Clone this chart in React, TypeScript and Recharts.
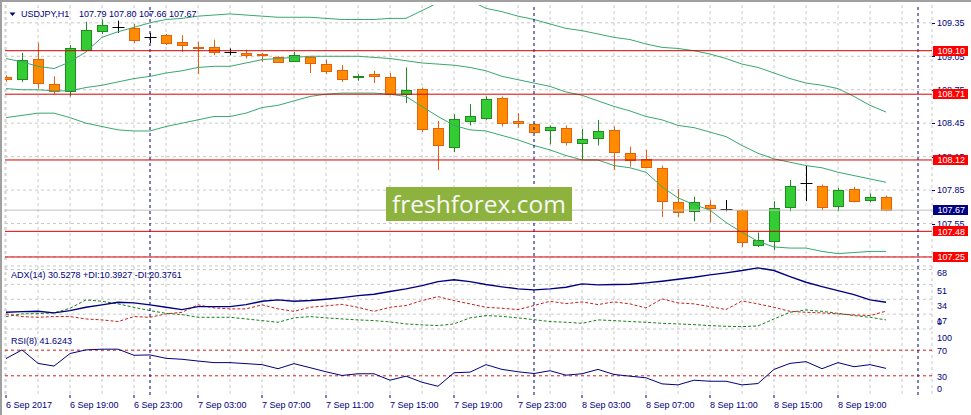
import React from 'react';
import {
  ComposedChart,
  Bar,
  Line,
  XAxis,
  YAxis,
  CartesianGrid,
  ReferenceLine,
  ReferenceArea,
} from 'recharts';

// ---------- data ----------
const symbolName = 'USDJPY,H1';

const openP = [108.86,108.85,109.03,108.80,108.74,109.11,109.28,109.31,109.30,109.22,109.24,109.18,109.13,109.13,109.09,109.08,109.07,109.04,109.01,109.04,108.98,108.93,108.86,108.89,108.86,108.71,108.76,108.41,108.24,108.47,108.50,108.68,108.47,108.44,108.39,108.41,108.27,108.32,108.39,108.18,108.13,108.05,107.74,107.66,107.72,107.68,107.67,107.36,107.39,107.70,107.91,107.89,107.71,107.86,107.76,107.79];
const highP = [108.88,109.08,109.17,108.87,109.15,109.36,109.38,109.37,109.34,109.26,109.25,109.24,109.18,109.20,109.12,109.11,109.08,109.05,109.09,109.05,109.02,108.97,108.89,108.92,108.90,108.95,108.77,108.47,108.53,108.62,108.69,108.69,108.54,108.45,108.43,108.43,108.40,108.48,108.42,108.24,108.21,108.07,107.86,107.79,107.76,107.76,107.68,107.47,107.75,107.94,108.07,107.90,107.87,107.88,107.82,107.80];
const lowP = [108.82,108.82,108.76,108.71,108.69,109.10,109.25,109.26,109.17,109.17,109.15,109.09,108.89,109.06,109.06,109.03,109.00,108.99,109.00,108.90,108.89,108.82,108.83,108.81,108.70,108.63,108.37,108.03,108.19,108.43,108.48,108.42,108.41,108.36,108.26,108.25,108.12,108.25,108.03,108.06,108.05,107.61,107.61,107.57,107.56,107.66,107.34,107.34,107.31,107.66,107.75,107.67,107.66,107.74,107.74,107.66];
const closeP = [108.85,109.02,108.81,108.74,109.12,109.29,109.33,109.31,109.20,109.22,109.17,109.15,109.12,109.09,109.09,109.06,109.06,109.00,109.06,108.99,108.92,108.85,108.87,108.87,108.71,108.75,108.40,108.25,108.49,108.51,108.67,108.45,108.45,108.37,108.42,108.28,108.31,108.38,108.19,108.12,108.06,107.75,107.65,107.74,107.69,107.68,107.38,107.40,107.69,107.89,107.91,107.70,107.85,107.75,107.79,107.67];

const bbUpper = [109.03,109.00,108.96,108.94,109.00,109.09,109.22,109.27,109.31,109.35,109.38,109.39,109.41,109.42,109.43,109.42,109.41,109.40,109.40,109.40,109.39,109.38,109.38,109.38,109.39,109.39,109.46,109.53,109.57,109.55,109.48,109.45,109.41,109.38,109.34,109.30,109.28,109.25,109.22,109.20,109.16,109.13,109.12,109.10,109.07,109.03,108.98,108.95,108.90,108.85,108.81,108.79,108.76,108.69,108.61,108.55];
const bbMiddle = [108.76,108.75,108.75,108.74,108.74,108.77,108.79,108.82,108.85,108.87,108.90,108.92,108.95,108.96,108.96,108.99,109.02,109.03,109.04,109.05,109.05,109.05,109.05,109.04,109.03,109.01,108.99,108.98,108.97,108.95,108.92,108.87,108.84,108.81,108.78,108.73,108.70,108.65,108.60,108.56,108.51,108.48,108.43,108.41,108.37,108.33,108.25,108.18,108.13,108.10,108.07,108.05,108.01,107.98,107.95,107.92];
const bbLower = [108.50,108.52,108.54,108.54,108.50,108.45,108.42,108.39,108.38,108.38,108.42,108.45,108.48,108.51,108.51,108.54,108.59,108.61,108.65,108.69,108.71,108.72,108.72,108.72,108.71,108.69,108.60,108.51,108.43,108.39,108.38,108.34,108.30,108.25,108.21,108.16,108.12,108.12,108.07,108.05,108.01,107.88,107.78,107.72,107.67,107.56,107.47,107.39,107.34,107.33,107.33,107.30,107.28,107.29,107.30,107.30];

const adxMain = [19.1,19.9,20.2,18.4,21.0,24.8,27.6,30.5,29.8,27.6,24.8,22.2,25.6,25.6,25.6,27.9,31.7,33.3,31.7,32.5,34.0,35.9,38.2,39.7,42.8,45.9,49.6,54.2,56.2,54.2,50.8,48.2,45.9,44.7,45.9,47.7,51.6,50.4,50.8,51.1,52.7,54.6,56.8,59.1,61.9,64.2,66.8,69.9,66.8,59.9,53.4,48.5,43.9,39.3,33.3,30.53];
const plusDI = [14.2,17.3,17.6,18.4,23.7,33.3,31.7,28.7,24.8,21.0,17.9,16.5,13.4,13.4,13.4,11.5,9.6,7.7,12.7,14.2,12.7,11.5,10.4,9.6,8.1,5.8,4.7,3.9,5.8,12.7,15.3,14.5,12.7,10.7,8.5,7.7,6.5,10.4,9.6,8.5,7.7,6.5,5.8,5.0,3.9,3.1,2.7,3.5,11.5,19.1,21.8,20.2,17.9,15.3,13.4,10.39];
const minusDI = [17.3,14.2,13.4,14.2,14.2,11.5,10.4,8.5,14.2,13.4,17.3,19.1,27.6,24.1,23.0,23.0,27.6,23.0,20.2,24.8,26.4,28.2,24.8,20.2,24.8,26.8,32.5,37.0,32.5,28.7,24.8,23.7,22.2,26.8,31.7,29.0,31.0,27.9,31.0,28.7,24.1,34.4,29.8,28.7,25.6,22.2,32.1,28.7,24.8,20.2,19.1,18.4,17.3,16.1,15.3,20.38];
const rsiValues = [56.9,70.5,49.4,45.2,64.8,70.5,71.6,71.6,62.1,62.6,57.3,55.8,53.1,50.6,50.6,49.0,47.4,41.1,49.0,42.7,36.3,30.5,33.2,33.2,23.1,29.4,19.9,13.6,34.8,35.7,47.4,40.0,36.3,33.6,37.9,31.0,33.2,40.0,32.1,29.4,26.9,17.4,15.8,23.1,21.5,21.5,15.8,17.9,40.0,49.4,52.1,41.1,50.6,44.2,47.4,41.62];

const adxHeader = 'ADX(14) 30.5278 +DI:10.3927 -DI:20.3761';
const rsiHeader = 'RSI(8) 41.6243';

const timeTickIndex = [0, 4, 8, 12, 16, 20, 24, 28, 32, 36, 40, 44, 48, 52];
const timeTickLabels = ['6 Sep 2017','6 Sep 19:00','6 Sep 23:00','7 Sep 03:00','7 Sep 07:00','7 Sep 11:00','7 Sep 15:00','7 Sep 19:00','7 Sep 23:00','8 Sep 03:00','8 Sep 07:00','8 Sep 11:00','8 Sep 15:00','8 Sep 19:00'];
const priceTicks = [107.25, 107.55, 107.85, 108.15, 108.45, 108.75, 109.05, 109.35];
const levelLines = [109.10, 108.71, 108.12, 107.48, 107.25];
const daySeparators = [9, 33, 57];
const adxTicks = [17, 34, 51, 68];
const adxMin = 0;
const rsiTicks = [30, 70];
const rsiMin = 0;
const rsiMax = 100;
const rsiLevels = [70, 30];

const data = openP.map((o, i) => ({
  i,
  open: o,
  high: highP[i],
  low: lowP[i],
  close: closeP[i],
  upper: bbUpper[i],
  middle: bbMiddle[i],
  lower: bbLower[i],
  adx: adxMain[i],
  pdi: plusDI[i],
  mdi: minusDI[i],
  rsi: rsiValues[i],
}));

const lastIdx = closeP.length - 1;
const lastClose = closeP[lastIdx];
const ohlcText = `${openP[lastIdx].toFixed(2)} ${highP[lastIdx].toFixed(2)} ${lowP[lastIdx].toFixed(2)} ${closeP[lastIdx].toFixed(2)}`;

// axis ticks: plain labels first, price tags afterwards so the tags sit on top
const mainAxisTicks = [...priceTicks, ...levelLines, lastClose];

// ---------- layout / style ----------
const W = 971;
const FONT = "'Liberation Sans', Arial, Helvetica, sans-serif";
const NAVY = '#000080';
const GRID = '#c8c8c8';
const BB = '#3aa86e';
const X_DOMAIN: [number, number] = [-0.0625, 57.875];
const gridTicks = Array.from({ length: 29 }, (_, k) => k * 2);
const RIGHT_W = 39;
// RSI panel geometry (absolute px) used for the clamped scale-end labels
const RSI_TOP = 331;
const RSI_BOTTOM = 395;
const AXIS_TEXT_X = 937;

const Candle = (props: any) => {
  const { x, y, width, height, payload } = props;
  if (!payload) return null;
  const { open, close, high, low } = payload;
  const top = Math.min(y, y + height);
  const h = Math.abs(height);
  const range = high - low;
  const py = (v: number) => (range > 0 ? top + ((high - v) / range) * h : top);
  const cx = Math.round(x + width / 2) + 0.5;
  const up = close > open;
  const down = close < open;
  const stroke = up ? '#1e8c1e' : down ? '#e2600e' : '#000000';
  const fill = up ? '#33cc33' : '#ff8c00';
  const yo = py(open);
  const yc = py(close);
  const bt = Math.round(Math.min(yo, yc)) + 0.5;
  const bb = Math.max(Math.round(Math.max(yo, yc)) + 0.5, bt + 1);
  return (
    <g>
      <line x1={cx} x2={cx} y1={py(high)} y2={py(low)} stroke={stroke} strokeWidth={1} />
      {up || down ? (
        <rect x={cx - 5} y={bt} width={10} height={bb - bt} fill={fill} stroke={stroke} strokeWidth={1} />
      ) : (
        <line x1={cx - 6} x2={cx + 6} y1={Math.round(yo) + 0.5} y2={Math.round(yo) + 0.5} stroke={stroke} strokeWidth={1} />
      )}
    </g>
  );
};

const priceTick = (p: any) => {
  const v = Number(p.payload.value);
  const isLevel = levelLines.includes(v);
  const isLast = v === lastClose;
  if (isLevel || isLast) {
    return (
      <g>
        <rect x={p.x - 4} y={Math.round(p.y) - 5} width={35} height={10} fill={isLast ? NAVY : '#ff0000'} />
        <text x={p.x + 0.5} y={p.y + 3.3} fill="#ffffff" fontSize={9} fontFamily={FONT}>
          {v.toFixed(2)}
        </text>
      </g>
    );
  }
  return (
    <g>
      <line x1={p.x - 5} x2={p.x - 2} y1={Math.round(p.y) + 0.5} y2={Math.round(p.y) + 0.5} stroke={NAVY} />
      <text x={p.x} y={p.y + 3.3} fill={NAVY} fontSize={9} fontFamily={FONT}>
        {v.toFixed(2)}
      </text>
    </g>
  );
};

const adxTick = (p: any) => {
  const v = Number(p.payload.value);
  const c = v === 68 ? p.y + 3.5 : p.y + 6.5;
  return (
    <text x={p.x} y={c + 3.3} fill={NAVY} fontSize={9} fontFamily={FONT}>
      {String(v)}
    </text>
  );
};

const rsiTick = (p: any) => (
  <text x={p.x} y={p.y + 0.6 + 3.3} fill={NAVY} fontSize={9} fontFamily={FONT}>
    {String(p.payload.value)}
  </text>
);

// label for a scale end value, drawn next to the right axis and pulled inside the panel
const edgeLabel = (value: number, shift: number) => (p: any) => {
  const vb = p.viewBox;
  if (!vb) return null;
  return (
    <text x={vb.x + vb.width + 5} y={vb.y + shift + 3.3} fill={NAVY} fontSize={9} fontFamily={FONT}>
      {String(value)}
    </text>
  );
};

const timeTick = (p: any) => {
  const idx = timeTickIndex.indexOf(Number(p.payload.value));
  return (
    <text x={p.x} y={p.y + 8.3} fill={NAVY} fontSize={9} fontFamily={FONT} textAnchor="start">
      {idx >= 0 ? timeTickLabels[idx] : ''}
    </text>
  );
};

const separators = daySeparators.map((s) => (
  <ReferenceLine key={`sep${s}`} x={s} stroke={NAVY} strokeDasharray="3 3" strokeWidth={1} ifOverflow="visible" />
));

export default function App() {
  return (
    <div style={{ position: 'absolute', left: 0, top: 0, width: W, height: 415, background: '#ffffff', overflow: 'hidden' }}>
      <div style={{ position: 'absolute', left: 0, top: 0, width: W, height: 2, background: '#a0a0a0' }} />
      <div style={{ position: 'absolute', left: 0, top: 0, width: 2, height: 415, background: '#a0a0a0' }} />

      {/* main price panel */}
      <div style={{ position: 'absolute', left: 0, top: 0 }}>
        <ComposedChart width={W} height={264} data={data} margin={{ top: 5, right: 0, bottom: 2, left: 5 }}>
          <CartesianGrid stroke={GRID} strokeDasharray="3 3" horizontalValues={priceTicks} />
          <XAxis dataKey="i" type="number" domain={X_DOMAIN} ticks={gridTicks} allowDataOverflow hide />
          <YAxis
            orientation="right"
            width={RIGHT_W}
            type="number"
            domain={[107.205, 109.51]}
            ticks={mainAxisTicks}
            allowDataOverflow
            axisLine={false}
            tickLine={false}
            tickSize={3}
            tick={priceTick}
            interval={0}
          />
          <ReferenceLine y={lastClose} stroke="#c0c0c0" strokeWidth={1} />
          <Bar
            dataKey={(d: any) => [d.low, d.high]}
            barSize={11}
            shape={(p: any) => <Candle {...p} />}
            isAnimationActive={false}
          />
          <Line type="linear" dataKey="upper" stroke={BB} strokeWidth={1} dot={false} isAnimationActive={false} />
          <Line type="linear" dataKey="middle" stroke={BB} strokeWidth={1} dot={false} isAnimationActive={false} />
          <Line type="linear" dataKey="lower" stroke={BB} strokeWidth={1} dot={false} isAnimationActive={false} />
          {separators}
          {levelLines.map((lv) => (
            <ReferenceLine key={`lv${lv}`} y={lv} stroke="#d40000" strokeWidth={1} />
          ))}
          <ReferenceArea fill="none" stroke={NAVY} strokeWidth={1} ifOverflow="visible" />
        </ComposedChart>
      </div>

      {/* ADX panel */}
      <div style={{ position: 'absolute', left: 0, top: 264 }}>
        <ComposedChart width={W} height={66} data={data} margin={{ top: 2, right: 0, bottom: 1, left: 5 }}>
          <CartesianGrid stroke={GRID} strokeDasharray="3 3" />
          <XAxis dataKey="i" type="number" domain={X_DOMAIN} ticks={gridTicks} allowDataOverflow hide />
          <YAxis
            orientation="right"
            width={RIGHT_W}
            type="number"
            domain={[adxMin, 72]}
            ticks={adxTicks}
            axisLine={false}
            tickLine={false}
            tickSize={3}
            tick={adxTick}
            interval={0}
          />
          <Line type="linear" dataKey="pdi" stroke="#1a7f1a" strokeWidth={1} strokeDasharray="3 2" dot={false} isAnimationActive={false} />
          <Line type="linear" dataKey="mdi" stroke="#c81e1e" strokeWidth={1} strokeDasharray="3 2" dot={false} isAnimationActive={false} />
          <Line type="linear" dataKey="adx" stroke={NAVY} strokeWidth={1.4} dot={false} isAnimationActive={false} />
          {separators}
          <ReferenceLine y={adxMin} stroke="none" ifOverflow="visible" label={edgeLabel(adxMin, -7)} />
          <ReferenceArea fill="none" stroke={NAVY} strokeWidth={1} ifOverflow="visible" />
        </ComposedChart>
      </div>

      {/* RSI panel + time axis */}
      <div style={{ position: 'absolute', left: 0, top: 330 }}>
        <ComposedChart width={W} height={85} data={data} margin={{ top: 1, right: 0, bottom: 0, left: 5 }}>
          <CartesianGrid stroke={GRID} strokeDasharray="3 3" xAxisId="grid" horizontal={false} />
          <XAxis xAxisId="grid" dataKey="i" type="number" domain={X_DOMAIN} ticks={gridTicks} allowDataOverflow hide />
          <XAxis
            dataKey="i"
            type="number"
            domain={X_DOMAIN}
            ticks={timeTickIndex}
            allowDataOverflow
            height={20}
            axisLine={false}
            tickLine={{ stroke: NAVY }}
            tickSize={3}
            tick={timeTick}
            interval={0}
          />
          <YAxis
            orientation="right"
            width={RIGHT_W}
            type="number"
            domain={[rsiMin, rsiMax]}
            ticks={rsiTicks}
            axisLine={false}
            tickLine={false}
            tickSize={3}
            tick={rsiTick}
            interval={0}
          />
          {rsiLevels.map((lv) => (
            <ReferenceLine key={`rsi${lv}`} y={lv} stroke="#c81e1e" strokeDasharray="3 3" strokeWidth={1} />
          ))}
          <Line type="linear" dataKey="rsi" stroke={NAVY} strokeWidth={1} dot={false} isAnimationActive={false} />
          {separators}
          <ReferenceArea fill="none" stroke={NAVY} strokeWidth={1} ifOverflow="visible" />
        </ComposedChart>
      </div>

      {/* header texts and clamped RSI scale-end labels */}
      <svg width={W} height={415} style={{ position: 'absolute', left: 0, top: 0, pointerEvents: 'none' }}>
        <polygon points="9.5,12.5 15.5,12.5 12.5,16" fill={NAVY} />
        <text x={21} y={16.6} fill={NAVY} fontSize={9} fontFamily={FONT}>
          {symbolName}
        </text>
        <text x={79} y={16.6} fill={NAVY} fontSize={9} fontFamily={FONT}>
          {ohlcText}
        </text>
        <text x={11} y={278.3} fill={NAVY} fontSize={9} fontFamily={FONT}>
          {adxHeader}
        </text>
        <text x={11} y={344} fill={NAVY} fontSize={9} fontFamily={FONT}>
          {rsiHeader}
        </text>
        <text x={AXIS_TEXT_X} y={RSI_TOP + 7 + 3.3} fill={NAVY} fontSize={9} fontFamily={FONT}>
          {String(rsiMax)}
        </text>
        <text x={AXIS_TEXT_X} y={RSI_BOTTOM - 6.3 + 3.3} fill={NAVY} fontSize={9} fontFamily={FONT}>
          {String(rsiMin)}
        </text>
      </svg>

      {/* watermark */}
      <div
        style={{
          position: 'absolute',
          left: 386,
          top: 187,
          width: 186,
          height: 34,
          background: '#8db23d',
          color: '#f8f8f8',
          fontFamily: "'Open Sans', sans-serif",
          fontSize: 24.5,
          lineHeight: '34px',
          textAlign: 'center',
        }}
      >
        freshforex.com
      </div>
    </div>
  );
}
